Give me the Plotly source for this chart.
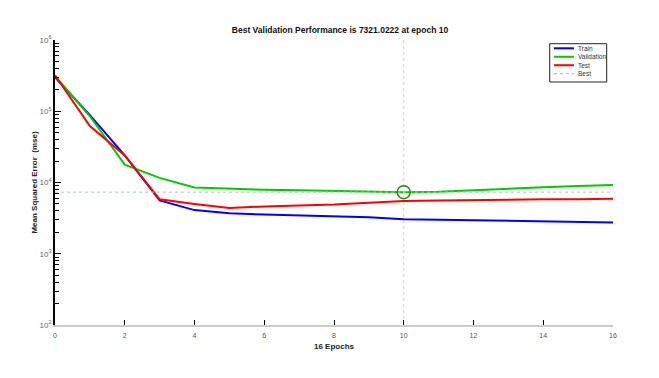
import plotly.graph_objects as go

epochs = list(range(17))
train = [3.0e5, 8.8e4, 2.4e4, 5.6e3, 4.1e3, 3.7e3, 3.55e3, 3.45e3, 3.35e3,
         3.25e3, 3.06e3, 3.0e3, 2.95e3, 2.9e3, 2.85e3, 2.8e3, 2.75e3]
validation = [3.13e5, 8.5e4, 1.78e4, 1.16e4, 8.5e3, 8.1e3, 7.9e3, 7.8e3, 7.6e3,
              7.4e3, 7321.0222, 7.4e3, 7.8e3, 8.2e3, 8.6e3, 8.9e3, 9.25e3]
test = [3.2e5, 6.2e4, 2.4e4, 5.8e3, 5.0e3, 4.4e3, 4.6e3, 4.7e3, 4.9e3,
        5.2e3, 5.5e3, 5.6e3, 5.7e3, 5.75e3, 5.8e3, 5.8e3, 5.9e3]
best_epoch = 10
best_perf = 7321.0222

ytick_vals = [1e2, 1e3, 1e4, 1e5, 1e6]
ytick_text = ["10<sup>2</sup>", "10<sup>3</sup>", "10<sup>4</sup>",
              "10<sup>5</sup>", "10<sup>6</sup>"]
xtick_vals = [0, 2, 4, 6, 8, 10, 12, 14, 16]
minor_vals = [m * 10 ** e for e in range(2, 6) for m in range(2, 10)]

legend_names = ["Train", "Validation", "Test", "Best"]
legend_colors = ["#0000ff", "#00cc00", "#ff0000", "#b0b0b0"]

fig = go.Figure()
fig.add_trace(go.Scatter(x=epochs, y=train, mode="lines", name="Train",
                         line=dict(color="#0000ff", width=2)))
fig.add_trace(go.Scatter(x=epochs, y=validation, mode="lines", name="Validation",
                         line=dict(color="#00cc00", width=2)))
fig.add_trace(go.Scatter(x=epochs, y=test, mode="lines", name="Test",
                         line=dict(color="#ff0000", width=2)))
# best lines
fig.add_trace(go.Scatter(x=[epochs[0], epochs[-1]], y=[best_perf, best_perf], mode="lines",
                         name="Best", line=dict(color="#a0cccc", width=1, dash="dot")))
fig.add_trace(go.Scatter(x=[best_epoch, best_epoch], y=[1e2, 1e6], mode="lines",
                         line=dict(color="#d4d4d4", width=1, dash="dot")))
fig.add_trace(go.Scatter(x=[best_epoch], y=[best_perf], mode="markers",
                         marker=dict(symbol="circle-open", size=13, color="#1a8a1a",
                                     line=dict(color="#1a8a1a", width=1.5))))

# hand made legend (plotly's own legend rows are too tall)
fig.add_shape(type="rect", xref="paper", yref="paper", x0=0.8866, x1=0.9887,
              y0=0.8526, y1=0.987, line=dict(color="#222222", width=1), fillcolor="white")
for i, (name, col) in enumerate(zip(legend_names, legend_colors)):
    yy = 0.9709 - i * 0.0297
    fig.add_shape(type="line", xref="paper", yref="paper", x0=0.894, x1=0.930,
                  y0=yy, y1=yy,
                  line=dict(color=col, width=2 if i < 3 else 1,
                            dash="solid" if i < 3 else "dot"))
    fig.add_annotation(xref="paper", yref="paper", x=0.934, y=yy, text=name,
                       showarrow=False, xanchor="left", yanchor="middle",
                       font=dict(size=6.5, color="#333333"))

# page body has an 8px margin, so the figure is drawn a bit smaller
fig.update_layout(
    width=651, height=370,
    margin=dict(l=47, r=46, t=32, b=53),
    paper_bgcolor="white", plot_bgcolor="white",
    font=dict(family="Liberation Sans, Arial", size=7, color="#555555"),
    title=dict(text="<b>Best Validation Performance is 7321.0222 at epoch 10</b>",
               x=0.51, xanchor="center", y=0.94, yanchor="middle",
               font=dict(size=8.5, color="#111111")),
    showlegend=False,
)
fig.update_xaxes(range=[0, 16], tickvals=xtick_vals, ticks="inside", ticklen=5,
                 tickcolor="black", showline=True, linecolor="#cccccc", linewidth=2,
                 showgrid=False, zeroline=False, automargin=False, ticklabelstandoff=3,
                 title=dict(text="<b>16 Epochs</b>", standoff=5,
                            font=dict(size=8, color="#222222")))
fig.update_yaxes(type="log", range=[2, 6], tickvals=ytick_vals, ticktext=ytick_text,
                 ticks="inside", ticklen=6, tickcolor="black", showline=True,
                 linecolor="black", linewidth=1.5, showgrid=False, zeroline=False,
                 automargin=False, tickfont=dict(size=8, color="#666666"),
                 minor=dict(tickvals=minor_vals, ticks="inside", ticklen=4, tickcolor="black"),
                 title=dict(text="<b>Mean Squared Error  (mse)</b>", standoff=1,
                            font=dict(size=8, color="#222222")))

fig.write_html("out.html")
